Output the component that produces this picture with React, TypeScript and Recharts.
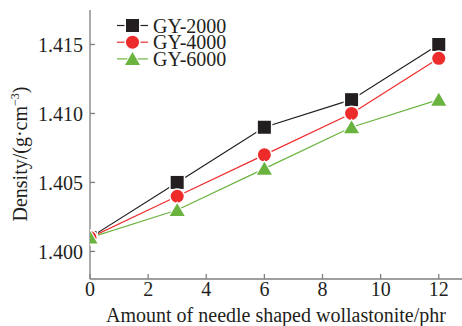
import { LineChart, Line, XAxis, YAxis, Legend, Label } from 'recharts'

const phr = [0, 3, 6, 9, 12]
const gy2000 = [1.401, 1.405, 1.409, 1.411, 1.415]
const gy4000 = [1.401, 1.404, 1.407, 1.41, 1.414]
const gy6000 = [1.401, 1.403, 1.406, 1.409, 1.411]
const xTicks = [0, 2, 4, 6, 8, 10, 12]
const yTicks = [1.4, 1.405, 1.41, 1.415]
const seriesNames = ['GY-2000', 'GY-4000', 'GY-6000']

const chartData = phr.map((x, i) => ({
  phr: x,
  g2000: gy2000[i],
  g4000: gy4000[i],
  g6000: gy6000[i],
}))

const FONT = "'Liberation Serif', 'Times New Roman', serif"
const TEXT = '#231f20'
const AXIS = '#7f7f7f'

const series = [
  { key: 'g2000', name: seriesNames[0], color: '#231f20', shape: 'square' },
  { key: 'g4000', name: seriesNames[1], color: '#ee2b2b', shape: 'circle' },
  { key: 'g6000', name: seriesNames[2], color: '#6ab33f', shape: 'triangle' },
]

function Marker({ shape, cx, cy, color }: { shape: string; cx: number; cy: number; color: string }) {
  if (shape === 'square') {
    return (
      <g>
        <rect x={cx - 8} y={cy - 8} width={16} height={16} fill="#fff" />
        <rect x={cx - 6.5} y={cy - 6.5} width={13} height={13} fill={color} />
      </g>
    )
  }
  if (shape === 'circle') {
    return (
      <g>
        <circle cx={cx} cy={cy} r={8} fill="#fff" />
        <circle cx={cx} cy={cy} r={6.5} fill={color} />
      </g>
    )
  }
  return (
    <g>
      <polygon
        points={`${cx},${cy - 9} ${cx - 9.5},${cy + 7.3} ${cx + 9.5},${cy + 7.3}`}
        fill="#fff"
      />
      <polygon
        points={`${cx},${cy - 6.8} ${cx - 7.5},${cy + 6} ${cx + 7.5},${cy + 6}`}
        fill={color}
      />
    </g>
  )
}

function makeDot(shape: string, color: string) {
  return (props: any) => {
    const { cx, cy, index } = props
    if (cx == null || cy == null) return <g key={`${shape}-${index}`} />
    return (
      <g key={`${shape}-${index}`}>
        <Marker shape={shape} cx={cx} cy={cy} color={color} />
      </g>
    )
  }
}

// legend drawn in its own svg, rows ~16.7px apart like the figure
function LegendBox() {
  return (
    <svg width={130} height={76} style={{ display: 'block', overflow: 'visible' }}>
      {series.map((s, i) => {
        const y = 18.5 + i * 16.7
        return (
          <g key={s.key}>
            <line x1={5} x2={36} y1={y} y2={y} stroke={s.color} strokeWidth={1.2} />
            <Marker shape={s.shape} cx={20.5} cy={y} color={s.color} />
            <text
              x={41}
              y={y}
              dy="0.35em"
              style={{ fontFamily: FONT, fontSize: 20, fill: TEXT }}
            >
              {s.name}
            </text>
          </g>
        )
      })}
    </svg>
  )
}

function YTitle(props: any) {
  const vb = props.viewBox || { x: 0, y: 0, width: 90, height: 269 }
  const x = vb.x + 27
  const y = 154
  return (
    <text
      x={x}
      y={y}
      transform={`rotate(-90, ${x}, ${y})`}
      textAnchor="middle"
      style={{ fontFamily: FONT, fontSize: 20, fill: TEXT }}
    >
      <tspan>Density/(g·cm</tspan>
      <tspan fontSize={12} dy={-8}>−3</tspan>
      <tspan dy={8}>)</tspan>
    </text>
  )
}

const tickStyle = { fill: TEXT, fontSize: 20, fontFamily: FONT }

export default function App() {
  return (
    <div
      style={{
        position: 'fixed',
        left: 0,
        top: 0,
        width: 462,
        height: 326,
        background: '#fff',
        fontFamily: FONT,
      }}
    >
      <LineChart
        width={462}
        height={326}
        data={chartData}
        margin={{ top: 10, right: 0, bottom: 0, left: 0 }}
        style={{ fontFamily: FONT }}
      >
        <XAxis
          dataKey="phr"
          type="number"
          domain={[0, 12.8]}
          ticks={xTicks}
          allowDataOverflow
          height={47}
          tickSize={-5}
          tickMargin={8}
          axisLine={{ stroke: AXIS, strokeWidth: 1.3 }}
          tickLine={{ stroke: AXIS, strokeWidth: 1.3 }}
          tick={tickStyle}
        >
          <Label
            value="Amount of needle shaped wollastonite/phr"
            position="insideBottom"
            offset={4}
            fontFamily={FONT}
            fontSize={20}
            fill={TEXT}
          />
        </XAxis>
        <YAxis
          type="number"
          domain={[1.398, 1.4175]}
          ticks={yTicks}
          allowDataOverflow
          width={90}
          tickSize={-5}
          tickMargin={12}
          tickFormatter={(v: number) => v.toFixed(3)}
          axisLine={{ stroke: AXIS, strokeWidth: 1.3 }}
          tickLine={{ stroke: AXIS, strokeWidth: 1.3 }}
          tick={tickStyle}
        >
          <Label content={<YTitle />} />
        </YAxis>
        <Legend
          layout="vertical"
          align="center"
          verticalAlign="middle"
          content={() => <LegendBox />}
          wrapperStyle={{ left: 112, top: 6.5, width: 130, height: 76 }}
        />
        {series.map((s) => (
          <Line
            key={s.key}
            type="linear"
            dataKey={s.key}
            name={s.name}
            stroke={s.color}
            strokeWidth={1.2}
            dot={makeDot(s.shape, s.color)}
            activeDot={false}
            isAnimationActive={false}
          />
        ))}
      </LineChart>
    </div>
  )
}
